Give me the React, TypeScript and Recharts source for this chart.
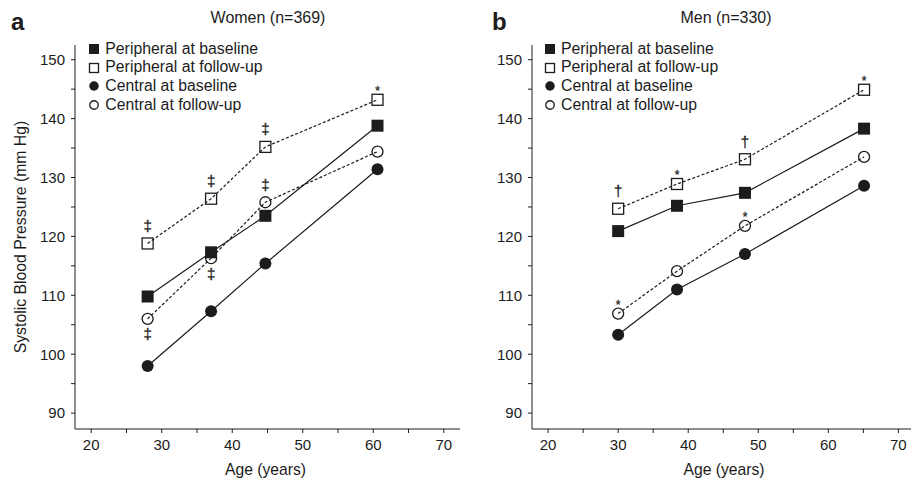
import React from 'react';
import { LineChart, Line, XAxis, YAxis } from 'recharts';

// values (systolic BP, mm Hg)
const womenAge = [28, 37, 44.7, 60.6];
const womenPeriBase = [109.8, 117.3, 123.5, 138.8];
const womenPeriFollow = [118.8, 126.4, 135.2, 143.2];
const womenCentBase = [98.0, 107.3, 115.4, 131.4];
const womenCentFollow = [106.0, 116.3, 125.8, 134.4];

const menAge = [30, 38.4, 48.1, 65.1];
const menPeriBase = [120.9, 125.2, 127.4, 138.3];
const menPeriFollow = [124.7, 128.9, 133.1, 144.9];
const menCentBase = [103.3, 111.0, 117.0, 128.6];
const menCentFollow = [106.9, 114.1, 121.8, 133.5];

// significance marks on the follow-up points
const womenPeriFollowMarks = ['‡', '‡', '‡', '*'];
const womenCentFollowMarks = ['‡', '‡', '‡', ''];
const womenCentFollowPlace = ['below', 'below', 'above', 'above'];
const menPeriFollowMarks = ['†', '*', '†', '*'];
const menCentFollowMarks = ['*', '', '*', ''];

const xTicks = [20, 25, 30, 35, 40, 45, 50, 55, 60, 65, 70];
const yTicks = [90, 95, 100, 105, 110, 115, 120, 125, 130, 135, 140, 145, 150];

const seriesNames = [
  'Peripheral at baseline',
  'Peripheral at follow-up',
  'Central at baseline',
  'Central at follow-up',
];

const INK = '#1c1c1c';
const FONT = '"Liberation Sans", Arial, sans-serif';

const SERIES = [
  { key: 'periBase', shape: 'square', filled: true, dashed: false },
  { key: 'periFollow', shape: 'square', filled: false, dashed: true },
  { key: 'centBase', shape: 'circle', filled: true, dashed: false },
  { key: 'centFollow', shape: 'circle', filled: false, dashed: true },
];

const Marker = ({ shape, filled, cx, cy, size }: any) => {
  if (shape === 'square') {
    const s = filled ? size : size - 1;
    return (
      <rect
        x={cx - s / 2}
        y={cy - s / 2}
        width={s}
        height={s}
        fill={filled ? INK : 'none'}
        stroke={INK}
        strokeWidth={filled ? 0 : 1.3}
      />
    );
  }
  const r = filled ? size / 2 : (size - 1) / 2;
  return <circle cx={cx} cy={cy} r={r} fill={filled ? INK : 'none'} stroke={INK} strokeWidth={filled ? 0 : 1.3} />;
};

const makeDot = (s: any, marks?: string[], places?: string[]) => (props: any) => {
  const { cx, cy, index } = props;
  if (cx == null || cy == null) return <g key={`e-${s.key}-${index}`} />;
  const m = marks ? marks[index] : '';
  const below = places ? places[index] === 'below' : false;
  let label = null;
  if (m) {
    const star = m === '*';
    const center = star ? -12 : below ? 16 : -17;
    const baseline = cy + center + (star ? 7 : 4.5);
    label = (
      <text
        x={cx}
        y={baseline}
        textAnchor="middle"
        fontSize={star ? 12 : 15}
        fill={INK}
        stroke={INK}
        strokeWidth={0.3}
        fontFamily={FONT}
        opacity={0.99}
      >
        {m}
      </text>
    );
  }
  return (
    <g key={`d-${s.key}-${index}`}>
      <Marker shape={s.shape} filled={s.filled} cx={cx} cy={cy} size={12} />
      {label}
    </g>
  );
};

const Legend = ({ left, top }: { left: number; top: number }) => (
  <div style={{ position: 'absolute', left, top }}>
    {seriesNames.map((name, i) => {
      const s = SERIES[i];
      return (
        <div key={name} style={{ position: 'absolute', left: 0, top: i * 18.7, height: 18.7, width: 260 }}>
          <svg width={12} height={12} style={{ position: 'absolute', left: 0, top: 3.4 }}>
            <Marker shape={s.shape} filled={s.filled} cx={6} cy={6} size={s.shape === 'square' ? 10 : 9.5} />
          </svg>
          <span
            style={{
              position: 'absolute',
              left: 17,
              top: 0,
              lineHeight: '18.7px',
              fontSize: 15.8,
              color: INK,
              whiteSpace: 'nowrap',
            }}
          >
            {name}
          </span>
        </div>
      );
    })}
  </div>
);

const tickFmt = (v: number) => (v % 10 === 0 ? String(v) : '');

const Panel = ({ left, width, marginLeft, marginRight, xMax, rows, dots }: any) => (
  <div style={{ position: 'absolute', left, top: 0 }}>
    <LineChart
      width={width}
      height={479}
      data={rows}
      margin={{ top: 45, right: marginRight, bottom: 20, left: marginLeft }}
    >
      <XAxis
        dataKey="age"
        type="number"
        domain={[17.7, xMax]}
        ticks={xTicks}
        tickFormatter={tickFmt}
        allowDataOverflow
        height={30}
        tickSize={4}
        tickMargin={6}
        stroke={INK}
        tick={{ fill: INK, fontSize: 15, fontFamily: FONT }}
        interval={0}
      />
      <YAxis
        type="number"
        domain={[87.3, 152.5]}
        ticks={yTicks}
        tickFormatter={tickFmt}
        allowDataOverflow
        width={45}
        tickSize={4}
        tickMargin={6}
        stroke={INK}
        tick={{ fill: INK, fontSize: 15, fontFamily: FONT }}
        interval={0}
      />
      {SERIES.map((s) => (
        <Line
          key={s.key}
          dataKey={s.key}
          stroke={INK}
          strokeWidth={1.2}
          strokeDasharray={s.dashed ? '3 2' : undefined}
          dot={dots[s.key]}
          activeDot={false}
          isAnimationActive={false}
        />
      ))}
    </LineChart>
  </div>
);

const womenRows = womenAge.map((age, i) => ({
  age,
  periBase: womenPeriBase[i],
  periFollow: womenPeriFollow[i],
  centBase: womenCentBase[i],
  centFollow: womenCentFollow[i],
}));

const menRows = menAge.map((age, i) => ({
  age,
  periBase: menPeriBase[i],
  periFollow: menPeriFollow[i],
  centBase: menCentBase[i],
  centFollow: menCentFollow[i],
}));

const womenDots = {
  periBase: makeDot(SERIES[0]),
  periFollow: makeDot(SERIES[1], womenPeriFollowMarks),
  centBase: makeDot(SERIES[2]),
  centFollow: makeDot(SERIES[3], womenCentFollowMarks, womenCentFollowPlace),
};

const menDots = {
  periBase: makeDot(SERIES[0]),
  periFollow: makeDot(SERIES[1], menPeriFollowMarks),
  centBase: makeDot(SERIES[2]),
  centFollow: makeDot(SERIES[3], menCentFollowMarks),
};

const textStyle = (x: number, y: number, size: number, bold = false): React.CSSProperties => ({
  position: 'absolute',
  left: x - 150,
  top: y - 12,
  width: 300,
  height: 24,
  lineHeight: '24px',
  textAlign: 'center',
  fontSize: size,
  fontWeight: bold ? 'bold' : 'normal',
  color: INK,
  whiteSpace: 'nowrap',
});

export default function App() {
  return (
    <div
      style={{
        position: 'absolute',
        left: 0,
        top: 0,
        width: 912,
        height: 479,
        background: '#fff',
        fontFamily: FONT,
        overflow: 'hidden',
      }}
    >
      <Panel left={0} width={465} marginLeft={30} marginRight={5} xMax={72.3} rows={womenRows} dots={womenDots} />
      <Panel left={460} width={452} marginLeft={27} marginRight={1} xMax={71.8} rows={menRows} dots={menDots} />

      <Legend left={88.3} top={39.7} />
      <Legend left={544} top={39.7} />

      <div style={textStyle(268, 17.5, 16)}>Women (n=369)</div>
      <div style={textStyle(726, 17.5, 16)}>Men (n=330)</div>
      <div style={{ ...textStyle(18.5, 22, 24, true), textAlign: 'left', left: 11 }}>a</div>
      <div style={{ ...textStyle(499, 22, 24, true), textAlign: 'left', left: 492 }}>b</div>
      <div style={textStyle(265.5, 470, 15.7)}>Age (years)</div>
      <div style={textStyle(724, 470, 15.7)}>Age (years)</div>
      <div style={{ ...textStyle(21, 237, 15.8), transform: 'rotate(-90deg)' }}>Systolic Blood Pressure (mm Hg)</div>
    </div>
  );
}
